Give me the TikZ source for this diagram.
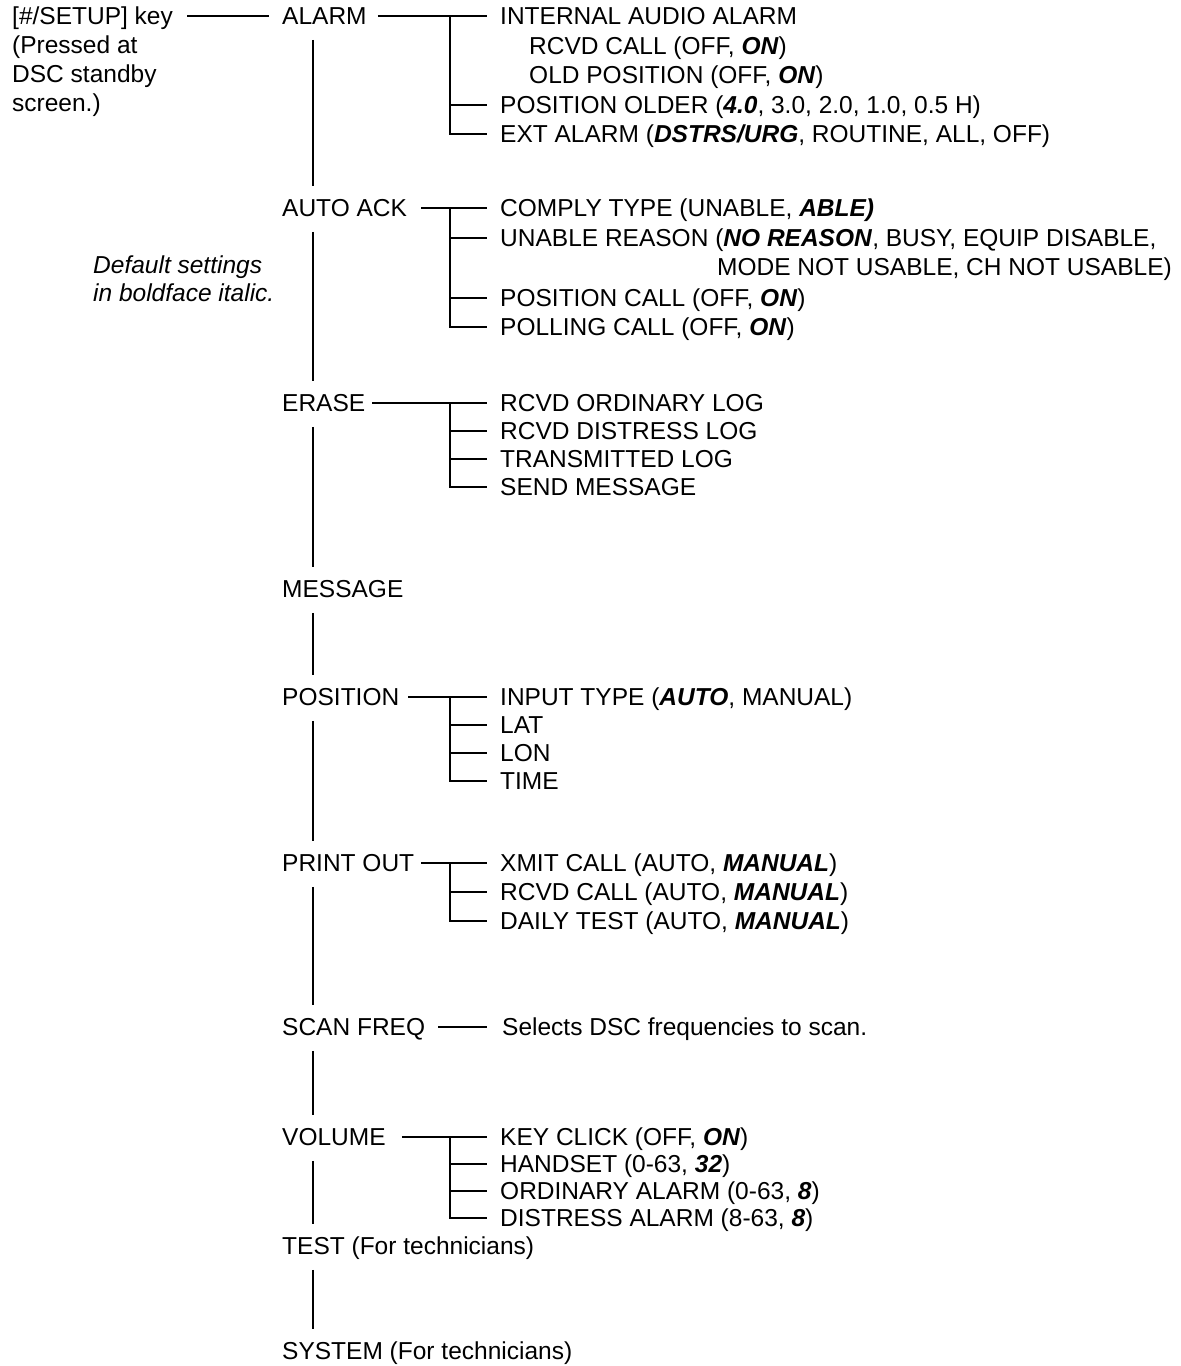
\documentclass[tikz,border=0pt]{standalone}
\usepackage{fontspec}
\setmainfont{Liberation Sans}
\newcommand\bfit[1]{\textbf{\textit{#1}}}
\begin{document}
\begin{tikzpicture}[x=1pt,y=-1pt,
  lbl/.style={anchor=west,inner sep=0pt,text height=17.5pt,text depth=0pt,font=\fontsize{24.5pt}{29pt}\selectfont},
  itl/.style={lbl,font=\fontsize{24.5pt}{29pt}\selectfont\itshape},
  ln/.style={line width=1.5pt,black},
  trunk/.style={ln,shorten <=15pt,shorten >=13pt},
  feed/.style={ln,shorten <=11pt,shorten >=13pt},
  tick/.style={ln,shorten >=13pt}]
\useasboundingbox (0,0) rectangle (1181,1366);
\coordinate (T) at (313,0);
\coordinate (B) at (450,0);

% left note
\node[lbl] (setup) at (12,16) {[\#/SETUP] key};
\node[lbl] (setupb) at (12,45) {(Pressed at};
\node[lbl] (setupc) at (12,74) {DSC standby};
\node[lbl] (setupd) at (12,103) {screen.)};
\node[itl] (defa) at (93,265) {Default settings};
\node[itl] (defb) at (93,293) {in boldface italic.};

% main column
\node[lbl] (alarm) at (282,16) {ALARM};
\node[lbl] (autoack) at (282,208) {AUTO ACK};
\node[lbl] (erase) at (282,403) {ERASE};
\node[lbl] (message) at (282,589) {MESSAGE};
\node[lbl] (position) at (282,697) {POSITION};
\node[lbl] (printout) at (282,863) {PRINT OUT};
\node[lbl] (scan) at (282,1027) {SCAN FREQ};
\node[lbl] (volume) at (282,1137) {VOLUME};
\node[lbl] (test) at (282,1246) {TEST (For technicians)};
\node[lbl] (system) at (282,1351) {SYSTEM (For technicians)};

\draw[feed,shorten <=14pt] (setup.east) -- (alarm.west);
\foreach \a/\b in {alarm/autoack,autoack/erase,erase/message,message/position,position/printout,printout/scan,scan/volume,volume/test,test/system}
  \draw[trunk] (\a.south -| T) -- (\b.north -| T);

% ALARM
\node[lbl] (a1) at (500,16) {INTERNAL AUDIO ALARM};
\node[lbl] (a1a) at (529,46) {RCVD CALL (OFF, \bfit{ON})};
\node[lbl] (a1b) at (529,75) {OLD POSITION (OFF, \bfit{ON})};
\node[lbl] (a2) at (500,105) {POSITION OLDER (\bfit{4.0}, 3.0, 2.0, 1.0, 0.5 H)};
\node[lbl] (a3) at (500,134) {EXT ALARM (\bfit{DSTRS/URG}, ROUTINE, ALL, OFF)};
\draw[feed] (alarm.east) -- (a1.west);
\draw[tick] (a1.west -| B) |- (a3.west);
\draw[tick] (a2.west -| B) -- (a2.west);

% AUTO ACK
\node[lbl] (b1) at (500,208) {COMPLY TYPE (UNABLE, \bfit{ABLE)}};
\node[lbl] (b2) at (500,238) {UNABLE REASON (\bfit{NO REASON}, BUSY, EQUIP DISABLE,};
\node[lbl,anchor=east] (b2b) at (1172,267) {MODE NOT USABLE, CH NOT USABLE)};
\node[lbl] (b3) at (500,298) {POSITION CALL (OFF, \bfit{ON})};
\node[lbl] (b4) at (500,327) {POLLING CALL (OFF, \bfit{ON})};
\draw[feed,shorten <=14pt] (autoack.east) -- (b1.west);
\draw[tick] (b1.west -| B) |- (b4.west);
\foreach \n in {b2,b3} \draw[tick] (\n.west -| B) -- (\n.west);

% ERASE
\node[lbl] (c1) at (500,403) {RCVD ORDINARY LOG};
\node[lbl] (c2) at (500,431) {RCVD DISTRESS LOG};
\node[lbl] (c3) at (500,459) {TRANSMITTED LOG};
\node[lbl] (c4) at (500,487) {SEND MESSAGE};
\draw[feed,shorten <=7pt] (erase.east) -- (c1.west);
\draw[tick] (c1.west -| B) |- (c4.west);
\foreach \n in {c2,c3} \draw[tick] (\n.west -| B) -- (\n.west);

% POSITION
\node[lbl] (d1) at (500,697) {INPUT TYPE (\bfit{AUTO}, MANUAL)};
\node[lbl] (d2) at (500,725) {LAT};
\node[lbl] (d3) at (500,753) {LON};
\node[lbl] (d4) at (500,781) {TIME};
\draw[feed,shorten <=9pt] (position.east) -- (d1.west);
\draw[tick] (d1.west -| B) |- (d4.west);
\foreach \n in {d2,d3} \draw[tick] (\n.west -| B) -- (\n.west);

% PRINT OUT
\node[lbl] (e1) at (500,863) {XMIT CALL (AUTO, \bfit{MANUAL})};
\node[lbl] (e2) at (500,892) {RCVD CALL (AUTO, \bfit{MANUAL})};
\node[lbl] (e3) at (500,921) {DAILY TEST (AUTO, \bfit{MANUAL})};
\draw[feed,shorten <=7pt] (printout.east) -- (e1.west);
\draw[tick] (e1.west -| B) |- (e3.west);
\draw[tick] (e2.west -| B) -- (e2.west);

% SCAN FREQ
\node[lbl] (f1) at (502,1027) {Selects DSC frequencies to scan.};
\draw[feed,shorten <=13pt,shorten >=15pt] (scan.east) -- (f1.west);

% VOLUME
\node[lbl] (g1) at (500,1137) {KEY CLICK (OFF, \bfit{ON})};
\node[lbl] (g2) at (500,1164) {HANDSET (0-63, \bfit{32})};
\node[lbl] (g3) at (500,1191) {ORDINARY ALARM (0-63, \bfit{8})};
\node[lbl] (g4) at (500,1218) {DISTRESS ALARM (8-63, \bfit{8})};
\draw[feed,shorten <=16pt] (volume.east) -- (g1.west);
\draw[tick] (g1.west -| B) |- (g4.west);
\foreach \n in {g2,g3} \draw[tick] (\n.west -| B) -- (\n.west);
\end{tikzpicture}
\end{document}
